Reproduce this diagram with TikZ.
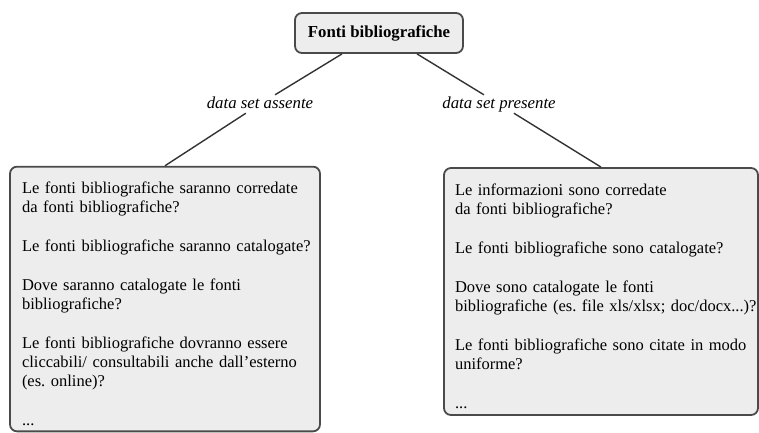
\documentclass[tikz,border=0pt]{standalone}
\usepackage{fontspec}
\setmainfont{Liberation Serif}
\frenchspacing
\definecolor{boxfill}{HTML}{EDEDED}
\definecolor{boxdraw}{HTML}{4A4A4A}
\definecolor{linecol}{HTML}{333333}
\tikzset{
  txt/.style={font=\fontsize{16.8}{19}\selectfont},
  qbox/.style={font=\fontsize{16.5}{19}\selectfont\frenchspacing, draw=boxdraw, fill=boxfill,
    line width=1.8pt, rounded corners=7pt, align=left, inner ysep=0pt},
  topbox/.style={txt, draw=boxdraw, fill=boxfill, line width=1.8pt, rounded corners=7pt,
    font=\fontsize{16.8}{19}\selectfont\bfseries, minimum width=168pt, minimum height=40pt},
  edgelab/.style={txt, font=\fontsize{16.8}{19}\selectfont\itshape, inner xsep=2pt, inner ysep=1pt,
    text height=12pt, text depth=4pt},
  conn/.style={draw=linecol, line width=1.4pt}
}
\begin{document}
\begin{tikzpicture}[x=1pt,y=-1pt]
\useasboundingbox (0,0) rectangle (759,432);
\node[topbox] (T) at (379,33) {Fonti bibliografiche};
\node[qbox, minimum width=310pt, minimum height=262pt, text width=286pt, inner xsep=12pt] (L) at (165,299)
{\begin{tabular}{@{}l@{}}
\rule{0pt}{27pt}Le fonti bibliografiche saranno corredate\\
da fonti bibliografiche?\\[20pt]
Le fonti bibliografiche saranno catalogate?\\[20pt]
Dove saranno catalogate le fonti\\
bibliografiche?\\[20pt]
Le fonti bibliografiche dovranno essere\\
cliccabili/ consultabili anche dall'esterno\\
(es. online)?\\[20pt]
...
\end{tabular}};
\node[qbox, minimum width=314pt, minimum height=247pt, text width=292pt, inner xsep=11pt] (R) at (601,291.5)
{\begin{tabular}{@{}l@{}}
\rule{0pt}{26pt}Le informazioni sono corredate\\
da fonti bibliografiche?\\[20pt]
Le fonti bibliografiche sono catalogate?\\[20pt]
Dove sono catalogate le fonti\\
bibliografiche (es. file xls/xlsx; doc/docx...)?\\[20pt]
Le fonti bibliografiche sono citate in modo\\
uniforme?\\[20pt]
...
\end{tabular}};
\node[edgelab] (la) at (260,104) {data set assente};
\node[edgelab] (ra) at (499,104) {data set presente};
\coordinate (tl) at ([xshift=-37pt]T.south);
\coordinate (tr) at ([xshift=38pt]T.south);
\draw[conn] (tl) -- (la) -- (L.north);
\draw[conn] (tr) -- (ra) -- (R.north);
\end{tikzpicture}
\end{document}
